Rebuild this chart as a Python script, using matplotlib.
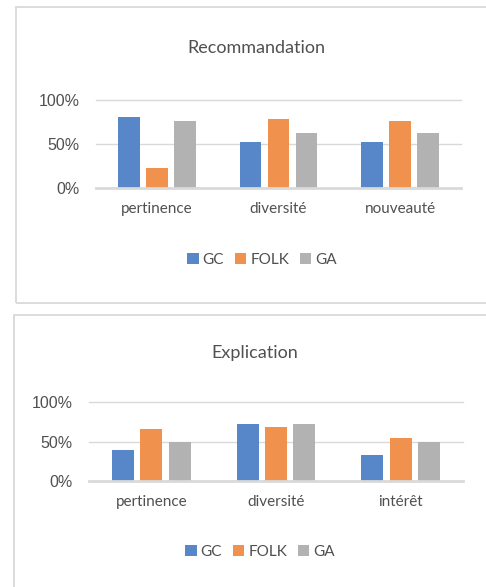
import matplotlib
matplotlib.use("Agg")
import matplotlib.pyplot as plt
from matplotlib.patches import Rectangle
import numpy as np

series = ["GC", "FOLK", "GA"]
colors = ["#5787C8", "#F0914D", "#B2B2B2"]

reco_title = "Recommandation"
reco_cats = ["pertinence", "diversité", "nouveauté"]
reco_vals = {
    "GC":   [0.81, 0.525, 0.525],
    "FOLK": [0.23, 0.78, 0.76],
    "GA":   [0.76, 0.62, 0.62],
}

expl_title = "Explication"
expl_cats = ["pertinence", "diversité", "intérêt"]
expl_vals = {
    "GC":   [0.39, 0.72, 0.33],
    "FOLK": [0.66, 0.68, 0.55],
    "GA":   [0.50, 0.72, 0.50],
}

yticks = [0, 0.5, 1.0]
ytick_labels = ["0%", "50%", "100%"]

W, H = 486, 587
fig = plt.figure(figsize=(W / 100, H / 100), dpi=100)
fig.patch.set_facecolor("white")

TXT = "#505050"
GRID = "#D9D9D9"
FONT = "Lato"


def px_rect(x0, y0, x1, y1):
    """Convert pixel box (top-left origin) to figure fraction [l, b, w, h]."""
    return [x0 / W, 1 - y1 / H, (x1 - x0) / W, (y1 - y0) / H]


def panel(x0, y0, x1, y1):
    l, b, w, h = px_rect(x0, y0, x1, y1)
    fig.patches.append(Rectangle((l, b), w, h, transform=fig.transFigure,
                                 fill=False, edgecolor="#D9D9D9", lw=1.3,
                                 zorder=0))


def chart(box, cats, vals, title, title_xy, legend_xy, spacing, width):
    ax = fig.add_axes(px_rect(*box))
    x = np.arange(len(cats))
    for i, (s, c) in enumerate(zip(series, colors)):
        ax.bar(x + (i - 1) * spacing, vals[s], width=width, color=c,
               label=s, zorder=3)
    ax.set_xlim(-0.5, len(cats) - 0.5)
    ax.set_ylim(0, 1.0)
    ax.set_yticks(yticks)
    ax.set_yticklabels(ytick_labels, fontsize=11.5, color=TXT,
                       family="Liberation Sans")
    ax.set_xticks(x)
    ax.set_xticklabels(cats, fontsize=11, color=TXT, family=FONT)
    ax.tick_params(axis="both", length=0)
    ax.tick_params(axis="y", pad=12)
    ax.tick_params(axis="x", pad=10)
    for sp in ax.spines.values():
        sp.set_visible(False)
    for yv in yticks[1:]:
        ax.axhline(yv, color=GRID, lw=1.0, zorder=1, clip_on=False)
    ax.axhline(0, color=GRID, lw=2.0, zorder=4, clip_on=False)
    ax.set_facecolor("none")
    fig.text(title_xy[0] / W, 1 - title_xy[1] / H, title, ha="center",
             va="center", fontsize=13, color=TXT, family=FONT)
    ax.legend(loc="center", bbox_to_anchor=(legend_xy[0] / W, 1 - legend_xy[1] / H),
              bbox_transform=fig.transFigure, ncol=3, frameon=False,
              handlelength=0.75, handleheight=0.75, handletextpad=0.25,
              columnspacing=0.7, prop={"family": FONT, "size": 11},
              labelcolor=TXT)
    return ax


panel(16, 7, 492, 303)
panel(14, 315, 492, 593)

chart((96, 100, 461, 188), reco_cats, reco_vals, reco_title,
      (256, 48), (262, 260), 0.23, 0.18)
chart((89, 402, 463, 481), expl_cats, expl_vals, expl_title,
      (255, 353), (260, 552), 0.228, 0.176)

fig.savefig("out.png", dpi=100, facecolor="white")
